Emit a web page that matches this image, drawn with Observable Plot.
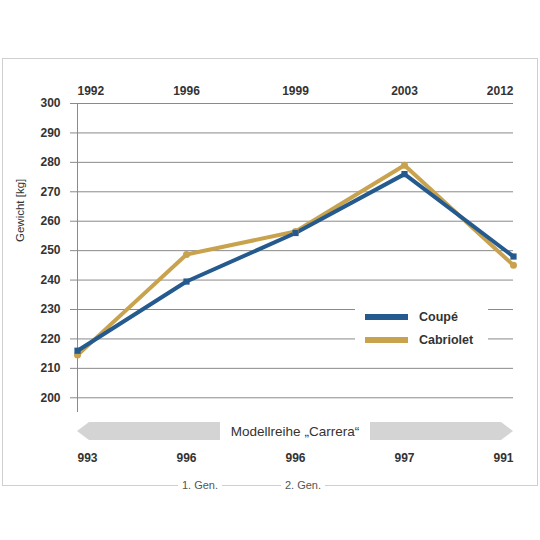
<!DOCTYPE html>
<html>
<head>
<meta charset="utf-8">
<script src="https://cdn.jsdelivr.net/npm/d3@7"></script>
<script src="https://cdn.jsdelivr.net/npm/@observablehq/plot@0.6"></script>
<style>
  body { margin: 0; background: #fff; }
  #wrap { position: relative; width: 540px; height: 540px; font-family: "Liberation Sans", Arial, sans-serif; }
  #frame { position: absolute; left: 2px; top: 58px; width: 534px; height: 426px; border: 1px solid #cfcfcf; }
  #chart { position: absolute; left: 0; top: 0; }
  .gen { position: absolute; top: 485px; transform: translate(-50%, -50%); background: #fff; padding: 0 4px; font-size: 11px; color: #555; }
  #legend { position: absolute; left: 355px; top: 301px; width: 133px; height: 52px; background: #fff; }
  .item { position: absolute; left: 10px; height: 14px; display: flex; align-items: center; font-size: 12.5px; font-weight: bold; color: #333; }
  .sw { width: 43px; height: 6px; margin-right: 11px; }
</style>
</head>
<body>
<div id="wrap">
  <div id="frame"></div>
  <div id="chart"></div>
  <div id="legend"></div>
  <span class="gen" style="left:200px">1. Gen.</span>
  <span class="gen" style="left:303px">2. Gen.</span>
</div>
<script>
const years = ["1992", "1996", "1999", "2003", "2012"];
const models = ["993", "996", "996", "997", "991"];
const coupe = [216, 239.5, 256, 276, 248];
const cabrio = [214.5, 248.7, 256.5, 279, 245];
const yTicks = [200, 210, 220, 230, 240, 250, 260, 270, 280, 290, 300];
const seriesNames = ["Coupé", "Cabriolet"];
const colors = ["#245a8e", "#c9a24e"];
const yLabel = "Gewicht [kg]";
const bandLabel = "Modellreihe „Carrera“";

const coupeData = years.map((y, i) => ({ year: y, value: coupe[i] }));
const cabrioData = years.map((y, i) => ({ year: y, value: cabrio[i] }));

// labels along top / bottom: first left-aligned, last right-aligned
function edgeLabels(labels, opts) {
  const n = years.length;
  const rows = years.map((y, i) => ({ year: y, label: labels[i], i }));
  const base = { x: "year", text: "label", fill: "#333", fontSize: 12, fontWeight: "bold", ...opts };
  return [
    Plot.text(rows.filter((d) => d.i === 0), { ...base, textAnchor: "start" }),
    Plot.text(rows.filter((d) => d.i > 0 && d.i < n - 1), { ...base, textAnchor: "middle" }),
    Plot.text(rows.filter((d) => d.i === n - 1), { ...base, textAnchor: "end" }),
  ];
}

// grey "Modellreihe" band with arrow heads, placed from the x scale
function modelBand(index, scales, values, dims) {
  const x0 = scales.x(years[0]);
  const x1 = scales.x(years[years.length - 1]);
  const cx = (x0 + x1) / 2;
  const top = dims.height - dims.marginBottom + 10;
  const h = 18;
  const head = 12;
  const gap = 75;
  const g = d3.create("svg:g");
  g.append("path")
    .attr("fill", "#d4d4d4")
    .attr("d", `M${x0},${top + h / 2}L${x0 + head},${top}H${cx - gap}V${top + h}H${x0 + head}Z`);
  g.append("path")
    .attr("fill", "#d4d4d4")
    .attr("d", `M${cx + gap},${top}H${x1 - head}L${x1},${top + h / 2}L${x1 - head},${top + h}H${cx + gap}Z`);
  g.append("text")
    .attr("x", cx)
    .attr("y", top + h / 2)
    .attr("dy", "0.35em")
    .attr("text-anchor", "middle")
    .attr("fill", "#333")
    .attr("font-size", 13.5)
    .text(bandLabel);
  return g.node();
}

const chart = Plot.plot({
  width: 540,
  height: 540,
  marginLeft: 77,
  marginRight: 27,
  marginTop: 103,
  marginBottom: 128,
  style: { fontFamily: "'Liberation Sans', Arial, sans-serif", background: "transparent" },
  x: { type: "point", domain: years, padding: 0 },
  y: { domain: [195, 300] },
  marks: [
    Plot.gridY(yTicks, { stroke: "#8a8a8a", strokeOpacity: 1 }),
    Plot.ruleX([years[0]], { stroke: "#8a8a8a" }),
    Plot.axisY({
      ticks: yTicks,
      tickSize: 7,
      tickPadding: 10,
      stroke: "#8a8a8a",
      strokeOpacity: 1,
      fill: "#333",
      fontSize: 12,
      fontWeight: "bold",
      label: null,
    }),
    Plot.axisX({ ticks: [], label: null }),
    Plot.text([yLabel], {
      frameAnchor: "left",
      dx: -57,
      dy: -16,
      rotate: -90,
      fontSize: 11.5,
      fill: "#333",
    }),
    ...edgeLabels(years, { frameAnchor: "top", dy: -17 }),
    ...edgeLabels(models, { frameAnchor: "bottom", dy: 49 }),
    modelBand,
    Plot.line(cabrioData, { x: "year", y: "value", stroke: colors[1], strokeWidth: 4 }),
    Plot.line(coupeData, { x: "year", y: "value", stroke: colors[0], strokeWidth: 4 }),
    Plot.dot(cabrioData, { x: "year", y: "value", fill: colors[1], r: 3.5 }),
    Plot.dot(coupeData, { x: "year", y: "value", fill: colors[0], symbol: "square", r: 3.5 }),
  ],
});
document.getElementById("chart").appendChild(chart);

const legend = document.getElementById("legend");
seriesNames.forEach((name, i) => {
  const item = document.createElement("div");
  item.className = "item";
  item.style.top = (9 + i * 23) + "px";
  item.innerHTML = `<span class="sw" style="background:${colors[i]}"></span>${name}`;
  legend.appendChild(item);
});
</script>
</body>
</html>
